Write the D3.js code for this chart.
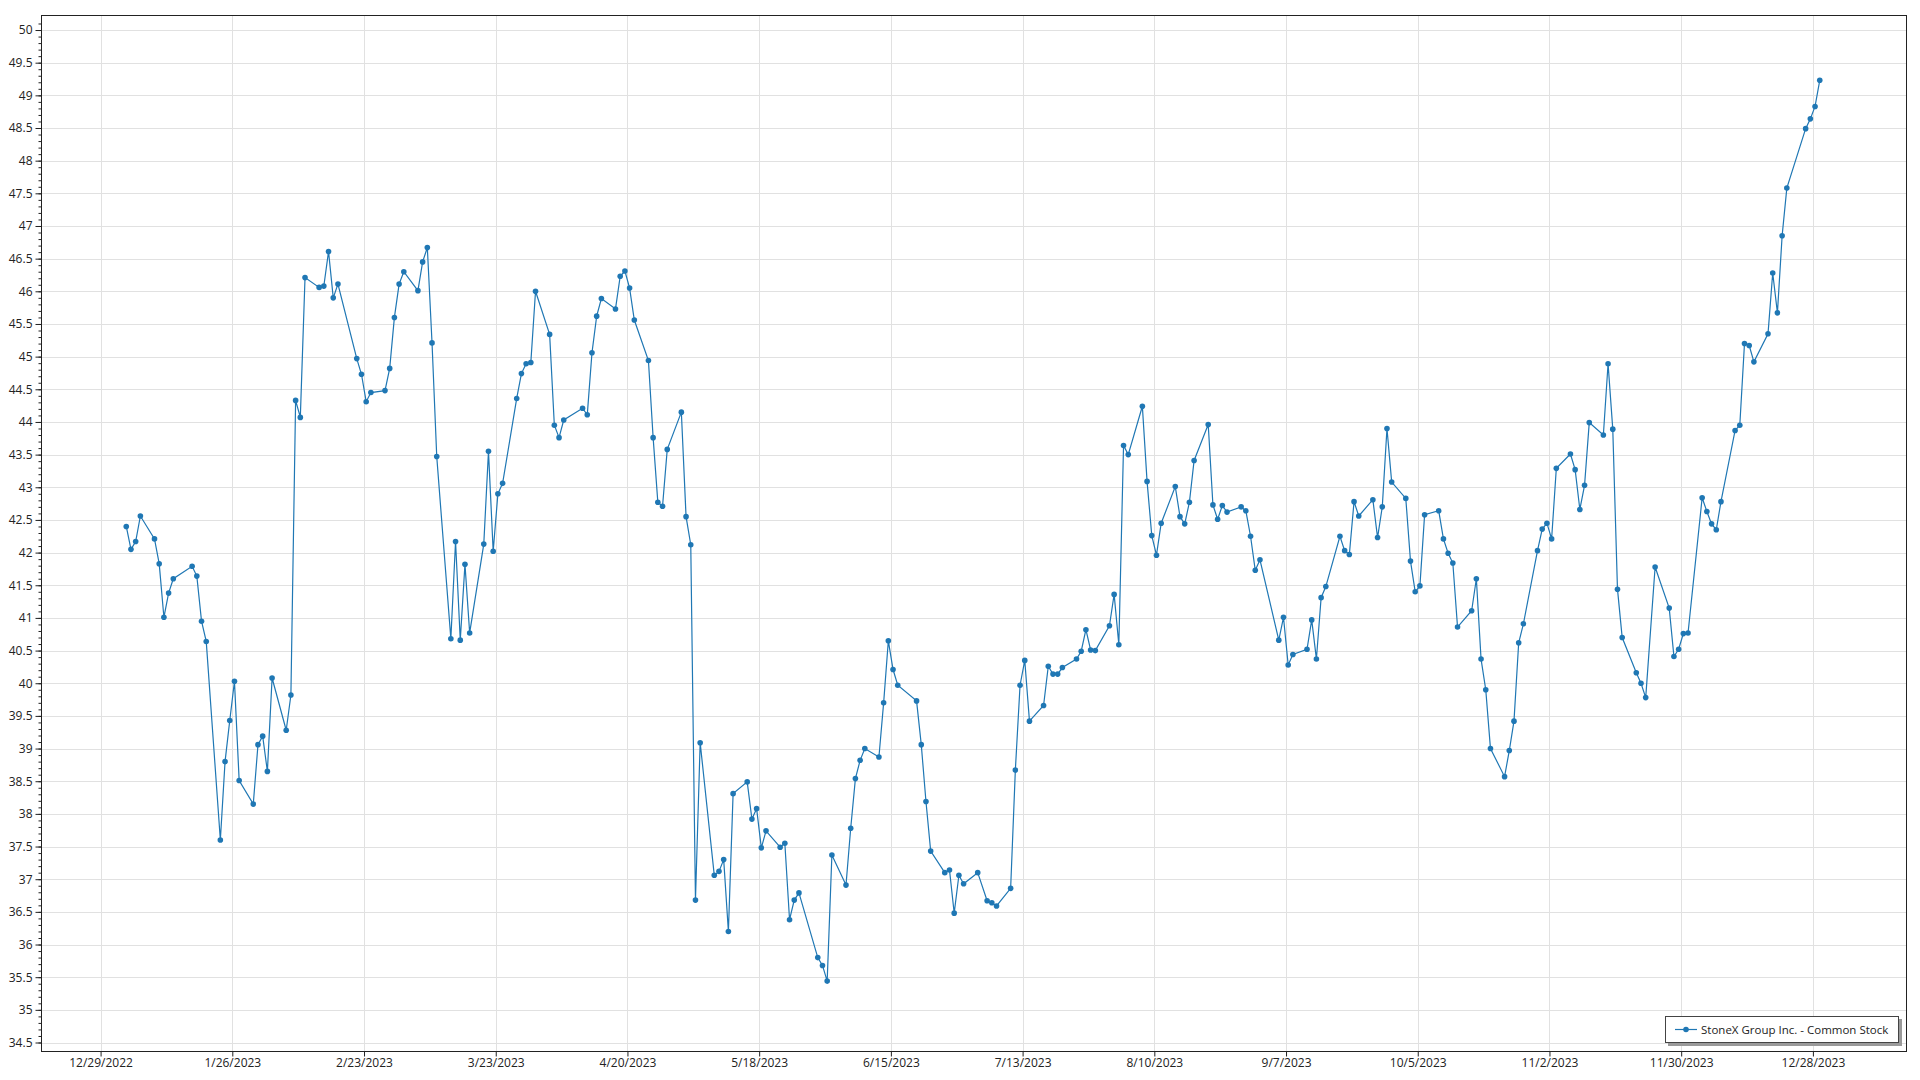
<!DOCTYPE html>
<html><head><meta charset="utf-8">
<script src="https://cdn.jsdelivr.net/npm/d3@7"></script>
<style>
body{margin:0;background:#fff;}
svg{display:block;}
text{font-family:"Open Sans","Noto Sans",sans-serif;}
</style>
</head><body>
<svg id="chart" width="1920" height="1080"></svg>
<script>
const seriesName = "StoneX Group Inc. - Common Stock";

const dates = [
"2023-01-03","2023-01-04","2023-01-05","2023-01-06","2023-01-09","2023-01-10","2023-01-11","2023-01-12","2023-01-13","2023-01-17",
"2023-01-18","2023-01-19","2023-01-20","2023-01-23","2023-01-24","2023-01-25","2023-01-26","2023-01-27","2023-01-30","2023-01-31",
"2023-02-01","2023-02-02","2023-02-03","2023-02-06","2023-02-07","2023-02-08","2023-02-09","2023-02-10","2023-02-13","2023-02-14",
"2023-02-15","2023-02-16","2023-02-17","2023-02-21","2023-02-22","2023-02-23","2023-02-24","2023-02-27","2023-02-28",
"2023-03-01","2023-03-02","2023-03-03","2023-03-06","2023-03-07","2023-03-08","2023-03-09","2023-03-10","2023-03-13","2023-03-14",
"2023-03-15","2023-03-16","2023-03-17","2023-03-20","2023-03-21","2023-03-22","2023-03-23","2023-03-24","2023-03-27","2023-03-28",
"2023-03-29","2023-03-30","2023-03-31",
"2023-04-03","2023-04-04","2023-04-05","2023-04-06","2023-04-10","2023-04-11","2023-04-12","2023-04-13","2023-04-14","2023-04-17",
"2023-04-18","2023-04-19","2023-04-20","2023-04-21","2023-04-24","2023-04-25","2023-04-26","2023-04-27","2023-04-28",
"2023-05-01","2023-05-02","2023-05-03","2023-05-04","2023-05-05","2023-05-08","2023-05-09","2023-05-10","2023-05-11","2023-05-12",
"2023-05-15","2023-05-16","2023-05-17","2023-05-18","2023-05-19","2023-05-22","2023-05-23","2023-05-24","2023-05-25","2023-05-26",
"2023-05-30","2023-05-31",
"2023-06-01","2023-06-02","2023-06-05","2023-06-06","2023-06-07","2023-06-08","2023-06-09","2023-06-12","2023-06-13","2023-06-14",
"2023-06-15","2023-06-16","2023-06-20","2023-06-21","2023-06-22","2023-06-23","2023-06-26","2023-06-27","2023-06-28","2023-06-29",
"2023-06-30",
"2023-07-03","2023-07-05","2023-07-06","2023-07-07","2023-07-10","2023-07-11","2023-07-12","2023-07-13","2023-07-14","2023-07-17",
"2023-07-18","2023-07-19","2023-07-20","2023-07-21","2023-07-24","2023-07-25","2023-07-26","2023-07-27","2023-07-28","2023-07-31",
"2023-08-01","2023-08-02","2023-08-03","2023-08-04","2023-08-07","2023-08-08","2023-08-09","2023-08-10","2023-08-11","2023-08-14",
"2023-08-15","2023-08-16","2023-08-17","2023-08-18","2023-08-21","2023-08-22","2023-08-23","2023-08-24","2023-08-25","2023-08-28",
"2023-08-29","2023-08-30","2023-08-31",
"2023-09-01","2023-09-05","2023-09-06","2023-09-07","2023-09-08","2023-09-11","2023-09-12","2023-09-13","2023-09-14","2023-09-15",
"2023-09-18","2023-09-19","2023-09-20","2023-09-21","2023-09-22","2023-09-25","2023-09-26","2023-09-27","2023-09-28","2023-09-29",
"2023-10-02","2023-10-03","2023-10-04","2023-10-05","2023-10-06","2023-10-09","2023-10-10","2023-10-11","2023-10-12","2023-10-13",
"2023-10-16","2023-10-17","2023-10-18","2023-10-19","2023-10-20","2023-10-23","2023-10-24","2023-10-25","2023-10-26","2023-10-27",
"2023-10-30","2023-10-31",
"2023-11-01","2023-11-02","2023-11-03","2023-11-06","2023-11-07","2023-11-08","2023-11-09","2023-11-10","2023-11-13","2023-11-14",
"2023-11-15","2023-11-16","2023-11-17","2023-11-20","2023-11-21","2023-11-22","2023-11-24","2023-11-27","2023-11-28","2023-11-29",
"2023-11-30",
"2023-12-01","2023-12-04","2023-12-05","2023-12-06","2023-12-07","2023-12-08","2023-12-11","2023-12-12","2023-12-13","2023-12-14",
"2023-12-15","2023-12-18","2023-12-19","2023-12-20","2023-12-21","2023-12-22","2023-12-26","2023-12-27","2023-12-28","2023-12-29"
];

const prices = [
42.40,42.05,42.17,42.56,42.21,41.83,41.01,41.38,41.60,41.79,
41.64,40.95,40.64,37.60,38.80,39.43,40.03,38.51,38.15,39.06,
39.19,38.65,40.08,39.28,39.82,44.33,44.07,46.21,46.06,46.08,
46.61,45.90,46.11,44.97,44.73,44.31,44.45,44.48,44.82,
45.60,46.11,46.30,46.01,46.45,46.67,45.21,43.47,40.68,42.17,
40.66,41.82,40.77,42.13,43.55,42.02,42.90,43.06,44.36,44.74,
44.89,44.91,46.00,
45.34,43.95,43.76,44.03,44.21,44.11,45.06,45.62,45.89,45.73,
46.23,46.31,46.05,45.56,44.94,43.76,42.77,42.71,43.58,
44.15,42.55,42.12,36.68,39.09,37.06,37.12,37.30,36.20,38.31,
38.49,37.92,38.08,37.48,37.74,37.49,37.55,36.38,36.68,36.79,
35.80,35.68,
35.44,37.37,36.91,37.78,38.54,38.82,39.00,38.87,39.70,40.65,
40.21,39.97,39.73,39.06,38.19,37.43,37.10,37.14,36.48,37.06,
36.93,
37.10,36.67,36.64,36.59,36.86,38.67,39.97,40.35,39.42,39.66,
40.26,40.14,40.14,40.24,40.37,40.49,40.82,40.51,40.50,40.88,
41.36,40.59,43.64,43.50,44.24,43.09,42.26,41.96,42.45,43.01,
42.55,42.44,42.77,43.41,43.96,42.73,42.51,42.72,42.62,42.70,
42.64,42.25,41.73,
41.89,40.66,41.01,40.28,40.44,40.52,40.97,40.37,41.31,41.48,
42.25,42.03,41.97,42.78,42.56,42.81,42.23,42.70,43.90,43.08,
42.83,41.87,41.40,41.49,42.58,42.64,42.21,41.99,41.84,40.86,
41.11,41.60,40.37,39.90,39.00,38.57,38.97,39.42,40.62,40.91,
42.03,42.36,
42.45,42.21,43.29,43.51,43.27,42.66,43.03,43.99,43.80,44.89,
43.89,41.44,40.70,40.16,40.00,39.78,41.78,41.15,40.41,40.52,
40.76,
40.77,42.84,42.63,42.44,42.35,42.78,43.87,43.95,45.20,45.17,
44.92,45.35,46.28,45.67,46.85,47.58,48.49,48.64,48.83,49.23
];

const xTickDates = ["2022-12-29","2023-01-26","2023-02-23","2023-03-23","2023-04-20","2023-05-18",
  "2023-06-15","2023-07-13","2023-08-10","2023-09-07","2023-10-05","2023-11-02","2023-11-30","2023-12-28"];
const yTickValues = [34.5,35,35.5,36,36.5,37,37.5,38,38.5,39,39.5,40,40.5,41,41.5,42,42.5,43,43.5,44,44.5,45,45.5,46,46.5,47,47.5,48,48.5,49,49.5,50];
const yMinorTicks = d3.range(345, 502, 1).map(v => v / 10);

const parse = d3.timeParse("%Y-%m-%d");
// points sit about half a day after the midnight tick positions in the reference
const data = dates.map((d, i) => ({date: d3.timeHour.offset(parse(d), 11), value: prices[i]}));

const pL = 41, pT = 15, pR = 1906, pB = 1051;
const svg = d3.select("#chart");

const x = d3.scaleTime()
  .domain([new Date(2022, 11, 16, 8), new Date(2024, 0, 16, 19)])
  .range([pL, pR]);
const y = d3.scaleLinear()
  .domain([34.37, 50.23])
  .range([pB, pT]);

const gridColor = "#e1e1e1";

svg.append("g").selectAll("line").data(yTickValues).join("line")
  .attr("x1", pL).attr("x2", pR)
  .attr("y1", d => Math.round(y(d)) + 0.5).attr("y2", d => Math.round(y(d)) + 0.5)
  .attr("stroke", gridColor).attr("stroke-width", 1);

svg.append("g").selectAll("line").data(xTickDates.map(parse)).join("line")
  .attr("y1", pT).attr("y2", pB)
  .attr("x1", d => Math.round(x(d)) + 0.5).attr("x2", d => Math.round(x(d)) + 0.5)
  .attr("stroke", gridColor).attr("stroke-width", 1);

const xAxis = d3.axisBottom(x)
  .tickValues(xTickDates.map(parse))
  .tickFormat(d3.timeFormat("%-m/%-d/%Y"))
  .tickSize(5).tickPadding(2);
const gx = svg.append("g").attr("transform", `translate(0,${pB + 0.5})`).call(xAxis);
gx.select(".domain").remove();
gx.selectAll("line").attr("stroke", "#222");
gx.selectAll("text").attr("font-size", 12).attr("fill", "#222")
  .attr("font-family", "'Open Sans','Noto Sans',sans-serif");

const yMinor = d3.axisLeft(y).tickValues(yMinorTicks).tickSize(3).tickFormat("");
const gym = svg.append("g").attr("transform", `translate(${pL + 0.5},0)`).call(yMinor);
gym.select(".domain").remove();
gym.selectAll("line").attr("stroke", "#222");

const yAxis = d3.axisLeft(y)
  .tickValues(yTickValues)
  .tickFormat(d3.format("~g"))
  .tickSize(6).tickPadding(3);
const gy = svg.append("g").attr("transform", `translate(${pL + 0.5},0)`).call(yAxis);
gy.select(".domain").remove();
gy.selectAll("line").attr("stroke", "#222");
gy.selectAll("text").attr("font-size", 12).attr("fill", "#222")
  .attr("font-family", "'Open Sans','Noto Sans',sans-serif");

svg.append("rect")
  .attr("x", pL + 0.5).attr("y", pT + 0.5)
  .attr("width", pR - pL).attr("height", pB - pT)
  .attr("fill", "none").attr("stroke", "#222").attr("stroke-width", 1);

const color = "#1f77b4";
const line = d3.line().x(d => x(d.date)).y(d => y(d.value));
svg.append("path").datum(data)
  .attr("d", line).attr("fill", "none")
  .attr("stroke", color).attr("stroke-width", 1.2);
svg.append("g").selectAll("circle").data(data).join("circle")
  .attr("cx", d => x(d.date)).attr("cy", d => y(d.value))
  .attr("r", 2.8).attr("fill", color);

const lg = svg.append("g").attr("transform", "translate(1665,1016)");
lg.append("rect").attr("x", 3).attr("y", 3).attr("width", 234).attr("height", 27).attr("fill", "#9a9a9a");
lg.append("rect").attr("x", 0.5).attr("y", 0.5).attr("width", 233).attr("height", 26)
  .attr("fill", "#fff").attr("stroke", "#444");
lg.append("line").attr("x1", 10).attr("x2", 32).attr("y1", 13.5).attr("y2", 13.5)
  .attr("stroke", color).attr("stroke-width", 1.2);
lg.append("circle").attr("cx", 21).attr("cy", 13.5).attr("r", 2.8).attr("fill", color);
lg.append("text").attr("x", 36).attr("y", 13.5).attr("dy", "0.35em")
  .attr("font-size", 11.5).attr("fill", "#222").text(seriesName);
</script>
</body></html>
